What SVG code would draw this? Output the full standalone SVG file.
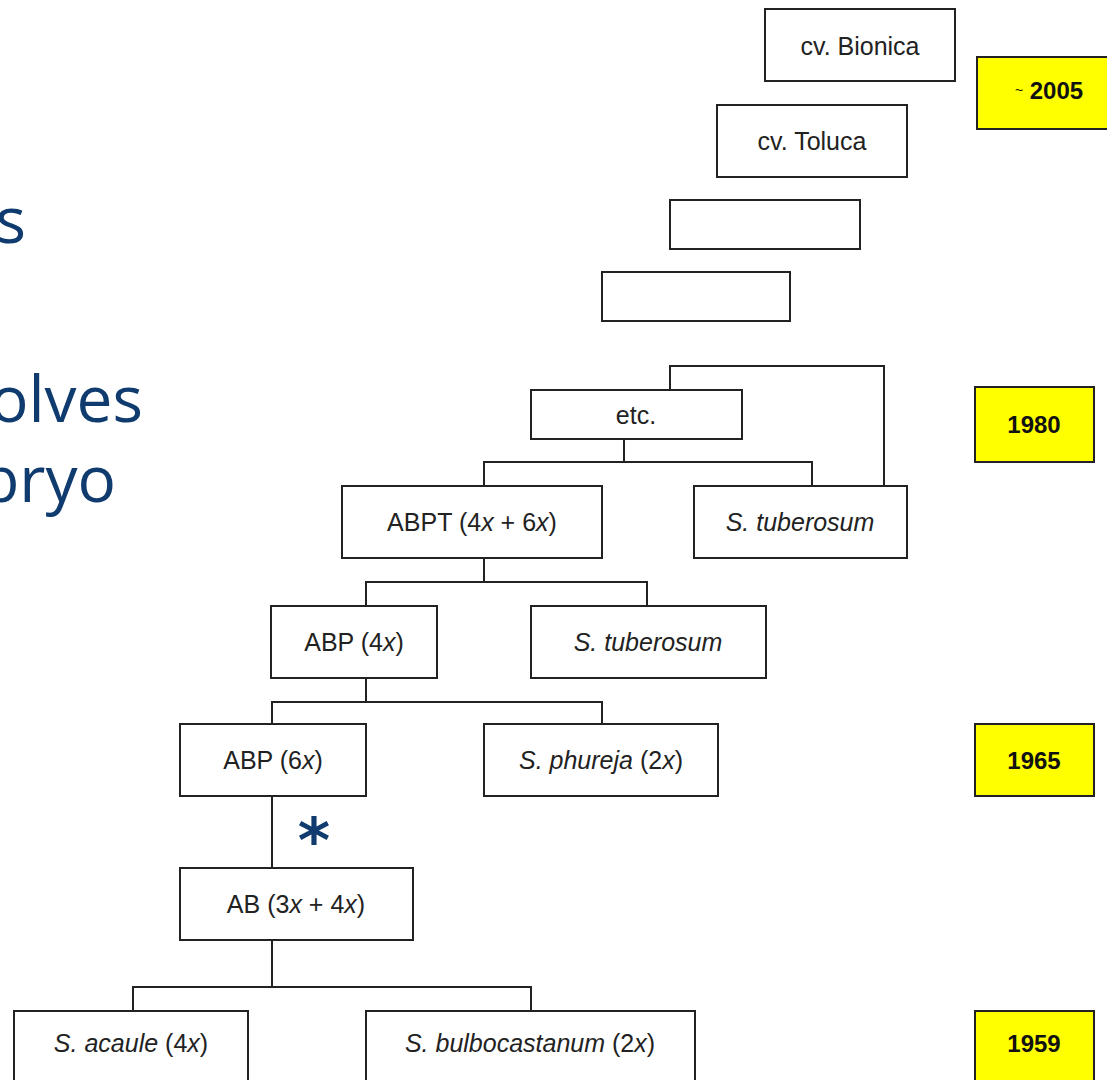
<svg xmlns="http://www.w3.org/2000/svg" width="1107" height="1080" viewBox="0 0 1107 1080">
<style>
.box{fill:#fff;stroke:#222;stroke-width:2}
.yr{fill:#ffff00;stroke:#222;stroke-width:2}
.lbl{font-family:"Liberation Sans",Arial,sans-serif;font-size:25px;fill:#222;text-anchor:middle}
.year{font-family:"Liberation Sans",Arial,sans-serif;font-size:24px;font-weight:bold;fill:#111;text-anchor:middle}
.side{font-family:"Open Sans","Noto Sans",sans-serif;font-size:64px;fill:#0f3b6e;text-anchor:end}
.i{font-style:italic}
.conn{fill:none;stroke:#222;stroke-width:2}
</style>
<rect width="1107" height="1080" fill="#fff"/>
<g id="side-text">
<text class="side" x="26" y="243">s</text>
<text class="side" x="143" y="422">olves</text>
<text class="side" x="116" y="502">bryo</text>
</g>
<g id="connectors">
<path class="conn" d="M670,390 V366 H884 V486"/>
<path class="conn" d="M624,439 V462 M484,486 V462 H812 V486"/>
<path class="conn" d="M484,558 V582 M366,606 V582 H647 V606"/>
<path class="conn" d="M366,678 V702 M272,724 V702 H602 V724"/>
<path class="conn" d="M272,796 V868"/>
<path class="conn" d="M272,940 V987 M133,1011 V987 H531 V1011"/>
</g>
<text id="asterisk" x="314" y="862" font-family="DejaVu Sans,sans-serif" font-weight="bold" font-size="62" fill="#0f3b6e" text-anchor="middle">*</text>
<g id="n-bionica"><rect class="box" x="765" y="9" width="190" height="72"/><text class="lbl" x="860" y="55">cv. Bionica</text></g>
<g id="n-toluca"><rect class="box" x="717" y="105" width="190" height="72"/><text class="lbl" x="812" y="150">cv. Toluca</text></g>
<g id="n-empty1"><rect class="box" x="670" y="200" width="190" height="49"/></g>
<g id="n-empty2"><rect class="box" x="602" y="272" width="188" height="49"/></g>
<g id="n-etc"><rect class="box" x="531" y="390" width="211" height="49"/><text class="lbl" x="636" y="424">etc.</text></g>
<g id="n-abpt"><rect class="box" x="342" y="486" width="260" height="72"/><text class="lbl" x="472" y="531">ABPT (4<tspan class="i">x</tspan> + 6<tspan class="i">x</tspan>)</text></g>
<g id="n-stub1"><rect class="box" x="694" y="486" width="213" height="72"/><text class="lbl i" x="800" y="531">S. tuberosum</text></g>
<g id="n-abp4"><rect class="box" x="271" y="606" width="166" height="72"/><text class="lbl" x="354" y="651">ABP (4<tspan class="i">x</tspan>)</text></g>
<g id="n-stub2"><rect class="box" x="531" y="606" width="235" height="72"/><text class="lbl i" x="648" y="651">S. tuberosum</text></g>
<g id="n-abp6"><rect class="box" x="180" y="724" width="186" height="72"/><text class="lbl" x="273" y="769">ABP (6<tspan class="i">x</tspan>)</text></g>
<g id="n-phureja"><rect class="box" x="484" y="724" width="234" height="72"/><text class="lbl" x="601" y="769"><tspan class="i">S. phureja</tspan> (2<tspan class="i">x</tspan>)</text></g>
<g id="n-ab"><rect class="box" x="180" y="868" width="233" height="72"/><text class="lbl" x="296" y="913">AB (3<tspan class="i">x</tspan> + 4<tspan class="i">x</tspan>)</text></g>
<g id="n-acaule"><rect class="box" x="14" y="1011" width="234" height="75"/><text class="lbl" x="131" y="1052"><tspan class="i">S. acaule</tspan> (4<tspan class="i">x</tspan>)</text></g>
<g id="n-bulbo"><rect class="box" x="366" y="1011" width="329" height="75"/><text class="lbl" x="530" y="1052"><tspan class="i">S. bulbocastanum</tspan> (2<tspan class="i">x</tspan>)</text></g>
<g id="y2005"><rect class="yr" x="977" y="57" width="140" height="72"/><text class="year" x="1049" y="99"><tspan font-size="14" font-weight="normal" dy="-4">~</tspan><tspan dy="4"> 2005</tspan></text></g>
<g id="y1980"><rect class="yr" x="975" y="387" width="119" height="75"/><text class="year" x="1034" y="433">1980</text></g>
<g id="y1965"><rect class="yr" x="975" y="724" width="119" height="72"/><text class="year" x="1034" y="769">1965</text></g>
<g id="y1959"><rect class="yr" x="975" y="1011" width="119" height="75"/><text class="year" x="1034" y="1052">1959</text></g>
</svg>
